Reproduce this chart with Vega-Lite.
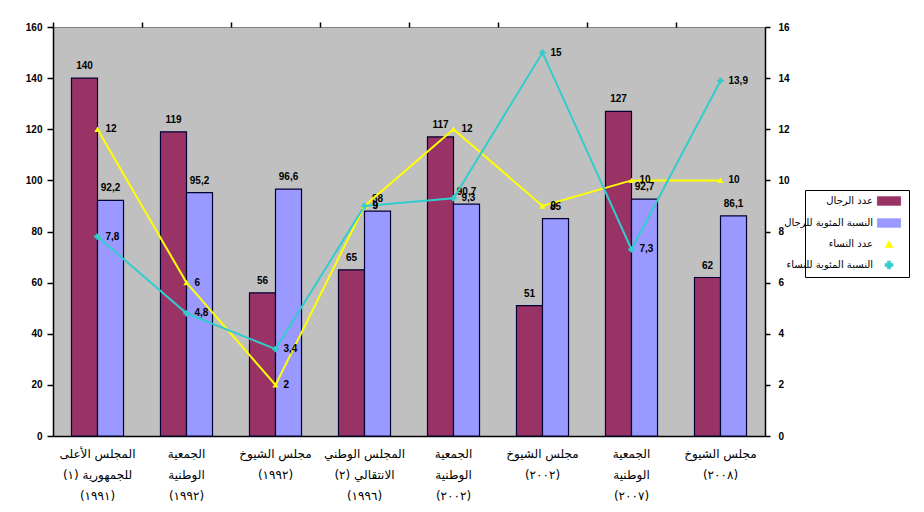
{
  "$schema": "https://vega.github.io/schema/vega-lite/v6.json",
  "width": 712,
  "height": 409,
  "autosize": {"type": "none"},
  "padding": {"left": 53, "top": 27, "right": 159, "bottom": 76},
  "background": "white",
  "config": {
    "view": {"fill": "#C0C0C0", "stroke": "#808080", "strokeWidth": 1},
    "locale": {"number": {"decimal": ",", "thousands": ".", "grouping": [3], "currency": ["", ""]}},
    "axis": {"domainColor": "#000000", "domainWidth": 1.5, "tickColor": "#000000", "tickWidth": 1.5, "grid": false, "labelColor": "#000000", "title": null}
  },
  "data": {
    "values": [
      {"cat": "المجلس الأعلى|(١) للجمهورية|(١٩٩١)", "series": "عدد الرجال", "value": 140},
      {"cat": "المجلس الأعلى|(١) للجمهورية|(١٩٩١)", "series": "النسبة المئوية للرجال", "value": 92.2},
      {"cat": "المجلس الأعلى|(١) للجمهورية|(١٩٩١)", "series": "عدد النساء", "value": 12},
      {"cat": "المجلس الأعلى|(١) للجمهورية|(١٩٩١)", "series": "النسبة المئوية للنساء", "value": 7.8},
      {"cat": "الجمعية|الوطنية|(١٩٩٢)", "series": "عدد الرجال", "value": 119},
      {"cat": "الجمعية|الوطنية|(١٩٩٢)", "series": "النسبة المئوية للرجال", "value": 95.2},
      {"cat": "الجمعية|الوطنية|(١٩٩٢)", "series": "عدد النساء", "value": 6},
      {"cat": "الجمعية|الوطنية|(١٩٩٢)", "series": "النسبة المئوية للنساء", "value": 4.8},
      {"cat": "مجلس الشيوخ|(١٩٩٢)", "series": "عدد الرجال", "value": 56},
      {"cat": "مجلس الشيوخ|(١٩٩٢)", "series": "النسبة المئوية للرجال", "value": 96.6},
      {"cat": "مجلس الشيوخ|(١٩٩٢)", "series": "عدد النساء", "value": 2},
      {"cat": "مجلس الشيوخ|(١٩٩٢)", "series": "النسبة المئوية للنساء", "value": 3.4},
      {"cat": "المجلس الوطني|(٢) الانتقالي|(١٩٩٦)", "series": "عدد الرجال", "value": 65},
      {"cat": "المجلس الوطني|(٢) الانتقالي|(١٩٩٦)", "series": "النسبة المئوية للرجال", "value": 88},
      {"cat": "المجلس الوطني|(٢) الانتقالي|(١٩٩٦)", "series": "عدد النساء", "value": 9},
      {"cat": "المجلس الوطني|(٢) الانتقالي|(١٩٩٦)", "series": "النسبة المئوية للنساء", "value": 9},
      {"cat": "الجمعية|الوطنية|(٢٠٠٢)", "series": "عدد الرجال", "value": 117},
      {"cat": "الجمعية|الوطنية|(٢٠٠٢)", "series": "النسبة المئوية للرجال", "value": 90.7},
      {"cat": "الجمعية|الوطنية|(٢٠٠٢)", "series": "عدد النساء", "value": 12},
      {"cat": "الجمعية|الوطنية|(٢٠٠٢)", "series": "النسبة المئوية للنساء", "value": 9.3},
      {"cat": "مجلس الشيوخ|(٢٠٠٢)", "series": "عدد الرجال", "value": 51},
      {"cat": "مجلس الشيوخ|(٢٠٠٢)", "series": "النسبة المئوية للرجال", "value": 85},
      {"cat": "مجلس الشيوخ|(٢٠٠٢)", "series": "عدد النساء", "value": 9},
      {"cat": "مجلس الشيوخ|(٢٠٠٢)", "series": "النسبة المئوية للنساء", "value": 15},
      {"cat": "الجمعية|الوطنية|(٢٠٠٧)", "series": "عدد الرجال", "value": 127},
      {"cat": "الجمعية|الوطنية|(٢٠٠٧)", "series": "النسبة المئوية للرجال", "value": 92.7},
      {"cat": "الجمعية|الوطنية|(٢٠٠٧)", "series": "عدد النساء", "value": 10},
      {"cat": "الجمعية|الوطنية|(٢٠٠٧)", "series": "النسبة المئوية للنساء", "value": 7.3},
      {"cat": "مجلس الشيوخ|(٢٠٠٨)", "series": "عدد الرجال", "value": 62},
      {"cat": "مجلس الشيوخ|(٢٠٠٨)", "series": "النسبة المئوية للرجال", "value": 86.1},
      {"cat": "مجلس الشيوخ|(٢٠٠٨)", "series": "عدد النساء", "value": 10},
      {"cat": "مجلس الشيوخ|(٢٠٠٨)", "series": "النسبة المئوية للنساء", "value": 13.9}
    ]
  },
  "layer": [
    {
      "transform": [{"filter": {"field": "series", "oneOf": ["عدد الرجال", "النسبة المئوية للرجال"]}}],
      "encoding": {
        "x": {
          "field": "cat", "type": "nominal", "sort": null,
          "scale": {"paddingInner": 0, "paddingOuter": 0},
          "axis": {"ticks": false, "labelExpr": "split(datum.label, '|')", "labelFont": "DejaVu Sans", "labelFontSize": 12, "labelAngle": 0, "labelPadding": 12, "labelLineHeight": 21, "labelBaseline": "top", "labelLimit": 0}
        },
        "xOffset": {
          "field": "series", "type": "nominal", "sort": null,
          "scale": {"domain": ["عدد الرجال", "النسبة المئوية للرجال"], "paddingOuter": 0.71, "paddingInner": 0}
        },
        "y": {
          "field": "value", "type": "quantitative",
          "scale": {"domain": [0, 160], "nice": false},
          "axis": {"orient": "left", "values": [0, 20, 40, 60, 80, 100, 120, 140, 160], "tickSize": 6, "labelFont": "Liberation Sans", "labelFontWeight": "bold", "labelFontSize": 10, "labelPadding": 5}
        }
      },
      "layer": [
        {
          "mark": {"type": "bar", "stroke": "#000033", "strokeWidth": 1.2},
          "encoding": {
            "color": {
              "field": "series", "type": "nominal", "title": null,
              "scale": {"domain": ["عدد الرجال", "النسبة المئوية للرجال", "عدد النساء", "النسبة المئوية للنساء"], "range": ["#993366", "#9999FF", "#FFFF00", "#33CCCC"]},
              "legend": {"orient": "none", "legendX": 752, "legendY": 163, "strokeColor": "#000000", "fillColor": "#FFFFFF", "padding": 6, "labelFont": "DejaVu Sans", "labelFontSize": 10, "labelColor": "#000000", "symbolSize": 60, "rowPadding": 10, "labelAlign": "right", "labelOffset": -21, "symbolOffset": 73, "symbolStrokeColor": "#000033", "symbolStrokeWidth": 0.8}
            }
          }
        },
        {
          "mark": {"type": "text", "dy": -12, "font": "Liberation Sans", "fontSize": 10, "fontWeight": "bold", "color": "#000000"},
          "encoding": {"text": {"field": "value", "type": "quantitative", "format": "~g"}}
        }
      ]
    },
    {
      "transform": [{"filter": {"field": "series", "oneOf": ["عدد النساء", "النسبة المئوية للنساء"]}}],
      "encoding": {
        "x": {
          "field": "cat", "type": "nominal", "sort": null,
          "axis": {"labels": false, "ticks": true, "bandPosition": 0, "tickSize": 5, "domain": false}
        },
        "y": {
          "field": "value", "type": "quantitative",
          "scale": {"domain": [0, 16], "nice": false},
          "axis": {"orient": "right", "values": [0, 2, 4, 6, 8, 10, 12, 14, 16], "tickSize": 5, "labelFont": "Liberation Sans", "labelFontWeight": "bold", "labelFontSize": 10, "labelPadding": 8}
        },
        "color": {
          "field": "series", "type": "nominal", "title": null,
          "scale": {"domain": ["عدد الرجال", "النسبة المئوية للرجال", "عدد النساء", "النسبة المئوية للنساء"], "range": ["#993366", "#9999FF", "#FFFF00", "#33CCCC"]},
          "legend": {"orient": "none", "legendX": 752, "legendY": 163, "strokeColor": "#000000", "fillColor": "#FFFFFF", "padding": 6, "labelFont": "DejaVu Sans", "labelFontSize": 10, "labelColor": "#000000", "symbolSize": 60, "rowPadding": 10, "labelAlign": "right", "labelOffset": -21, "symbolOffset": 73, "symbolStrokeColor": "#000033", "symbolStrokeWidth": 0.8}
        }
      },
      "layer": [
        {"mark": {"type": "line", "strokeWidth": 2}},
        {
          "mark": {"type": "point", "filled": true, "size": 40, "opacity": 1},
          "encoding": {
            "shape": {
              "field": "series", "type": "nominal", "title": null,
              "scale": {"domain": ["عدد الرجال", "النسبة المئوية للرجال", "عدد النساء", "النسبة المئوية للنساء"], "range": ["M-3,-1.1H3V1.1H-3Z", "M-3,-1.1H3V1.1H-3Z", "triangle-up", "cross"]},
              "legend": {"orient": "none", "legendX": 752, "legendY": 163, "strokeColor": "#000000", "fillColor": "#FFFFFF", "padding": 6, "labelFont": "DejaVu Sans", "labelFontSize": 10, "labelColor": "#000000", "symbolSize": 60, "rowPadding": 10, "labelAlign": "right", "labelOffset": -21, "symbolOffset": 73, "symbolStrokeColor": "#000033", "symbolStrokeWidth": 0.8}
            }
          }
        },
        {
          "mark": {"type": "text", "align": "left", "dx": 8, "font": "Liberation Sans", "fontSize": 10, "fontWeight": "bold"},
          "encoding": {
            "text": {"field": "value", "type": "quantitative", "format": "~g"},
            "color": {"value": "#000000"}
          }
        }
      ]
    }
  ],
  "resolve": {"scale": {"y": "independent"}, "axis": {"x": "independent"}}
}
